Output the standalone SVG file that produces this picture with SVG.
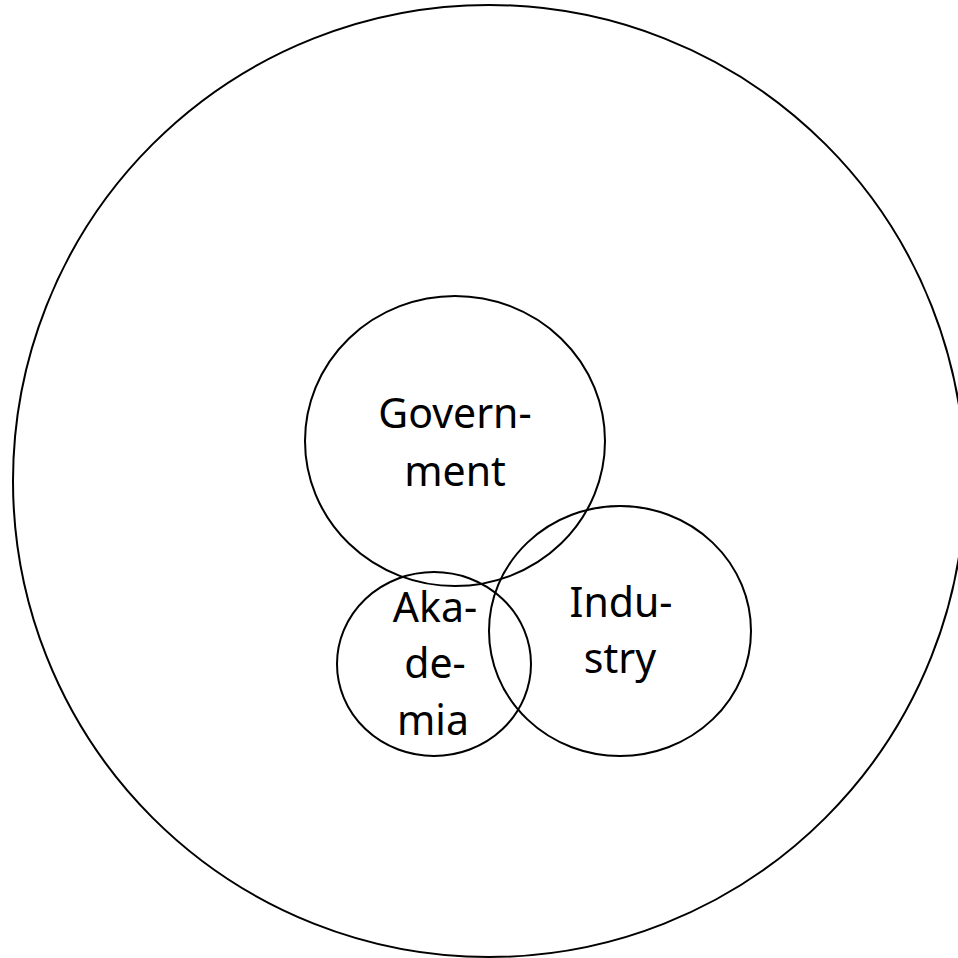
<svg xmlns="http://www.w3.org/2000/svg" width="958" height="958" viewBox="0 0 958 958">
<style>
.c{fill:none;stroke:#000;stroke-width:2}
.t{font-family:"Noto Sans","Open Sans",sans-serif;font-size:41px;fill:#000;text-anchor:middle}
</style>
<rect width="958" height="958" fill="#fff"/>
<g id="outer"><ellipse class="c" cx="489" cy="481" rx="476" ry="476"/></g>
<g id="government">
<ellipse class="c" cx="455" cy="441" rx="150" ry="145"/>
<text class="t" x="455" y="428">Govern-</text>
<text class="t" x="455" y="486">ment</text>
</g>
<g id="akademia">
<ellipse class="c" cx="434" cy="664" rx="97" ry="92"/>
<text class="t" x="435" y="622">Aka-</text>
<text class="t" x="435" y="678">de-</text>
<text class="t" x="433" y="735">mia</text>
</g>
<g id="industry">
<ellipse class="c" cx="620" cy="631" rx="131" ry="125"/>
<text class="t" x="621" y="617">Indu-</text>
<text class="t" x="620" y="673">stry</text>
</g>
<g id="connectors"/>
</svg>
